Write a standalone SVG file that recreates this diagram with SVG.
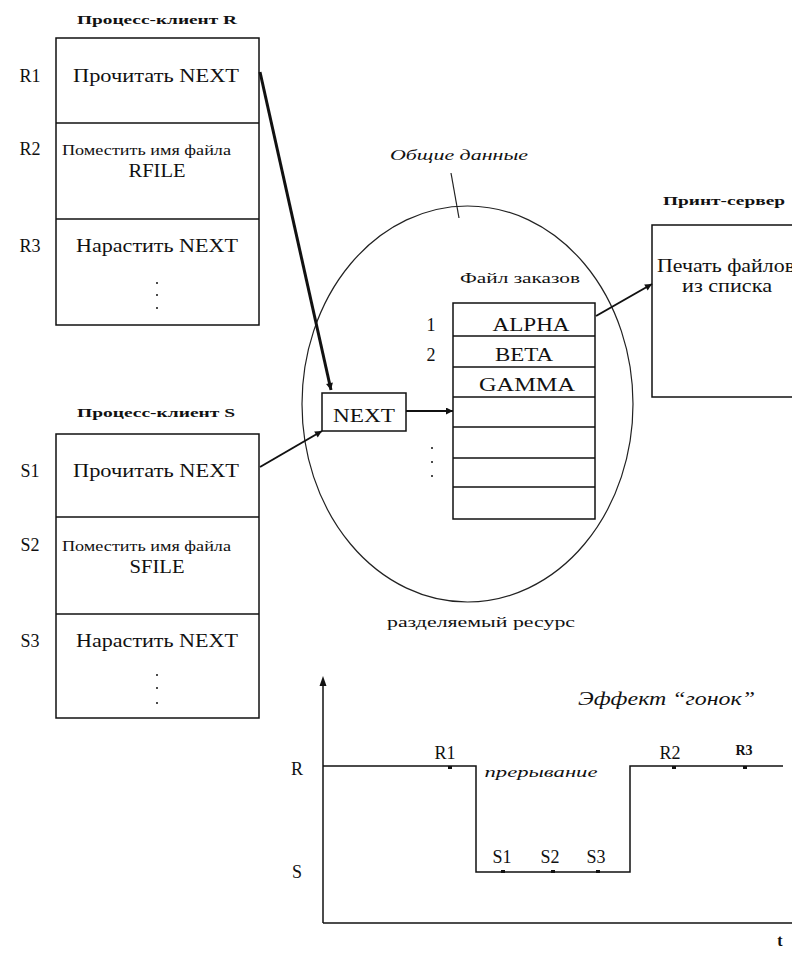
<svg xmlns="http://www.w3.org/2000/svg" width="792" height="953" viewBox="0 0 792 953">
<style>
text{font-family:"Liberation Serif","Times New Roman",serif;fill:#111}
.t{font-size:18px}
.m{font-size:15px}
.s{font-size:13px}
.b{font-size:13px;font-weight:bold}
.i{font-style:italic}
.c{text-anchor:middle}
.box{fill:#fff;stroke:#111;stroke-width:1.5}
.ln{stroke:#111;stroke-width:1.5;fill:none}
.cn{stroke:#111;stroke-width:2;fill:none}
.dot{fill:#111}
</style>
<defs>
<marker id="ah" viewBox="0 0 10 10" refX="10" refY="5" markerWidth="9" markerHeight="7" markerUnits="userSpaceOnUse" orient="auto">
<path d="M0,0 L10,5 L0,10 z" fill="#111"/>
</marker>
</defs>
<rect width="792" height="953" fill="#fff"/>

<g id="processR">
<text class="b c" x="157" y="24" textLength="160" lengthAdjust="spacingAndGlyphs">Процесс-клиент R</text>
<rect class="box" x="56" y="38" width="203" height="287"/>
<line class="ln" x1="56" y1="123" x2="259" y2="123"/>
<line class="ln" x1="56" y1="219" x2="259" y2="219"/>
<text class="t c" x="30" y="82">R1</text>
<text class="t c" x="30" y="155">R2</text>
<text class="t c" x="30" y="252">R3</text>
<text class="t c" x="156" y="82" textLength="166" lengthAdjust="spacingAndGlyphs">Прочитать NEXT</text>
<text class="m" x="62" y="155" textLength="169" lengthAdjust="spacingAndGlyphs">Поместить имя файла</text>
<text class="t c" x="157" y="177" textLength="57" lengthAdjust="spacingAndGlyphs">RFILE</text>
<text class="t c" x="157" y="252" textLength="162" lengthAdjust="spacingAndGlyphs">Нарастить NEXT</text>
<circle class="dot" cx="157" cy="283" r="1"/>
<circle class="dot" cx="157" cy="295" r="1"/>
<circle class="dot" cx="157" cy="308" r="1"/>
</g>

<g id="processS">
<text class="b c" x="156" y="417" textLength="158" lengthAdjust="spacingAndGlyphs">Процесс-клиент S</text>
<rect class="box" x="56" y="434" width="203" height="284"/>
<line class="ln" x1="56" y1="517" x2="259" y2="517"/>
<line class="ln" x1="56" y1="614" x2="259" y2="614"/>
<text class="t c" x="30" y="477">S1</text>
<text class="t c" x="30" y="551">S2</text>
<text class="t c" x="30" y="647">S3</text>
<text class="t c" x="156" y="477" textLength="166" lengthAdjust="spacingAndGlyphs">Прочитать NEXT</text>
<text class="m" x="62" y="551" textLength="169" lengthAdjust="spacingAndGlyphs">Поместить имя файла</text>
<text class="t c" x="157" y="573" textLength="55" lengthAdjust="spacingAndGlyphs">SFILE</text>
<text class="t c" x="157" y="647" textLength="162" lengthAdjust="spacingAndGlyphs">Нарастить NEXT</text>
<circle class="dot" cx="157" cy="675" r="1"/>
<circle class="dot" cx="157" cy="688" r="1"/>
<circle class="dot" cx="157" cy="703" r="1"/>
</g>

<g id="sharedData">
<ellipse cx="467.5" cy="404" rx="165.5" ry="198" fill="none" stroke="#222" stroke-width="1.2"/>
<line x1="451" y1="173" x2="459" y2="218" stroke="#222" stroke-width="1.2"/>
<text class="m i c" x="459" y="160" textLength="138" lengthAdjust="spacingAndGlyphs">Общие данные</text>
<text class="m c" x="481" y="627" textLength="188" lengthAdjust="spacingAndGlyphs">разделяемый ресурс</text>
</g>

<g id="orderFile">
<text class="m c" x="520" y="283" textLength="120" lengthAdjust="spacingAndGlyphs">Файл заказов</text>
<rect class="box" x="453" y="303" width="142" height="216"/>
<line class="ln" x1="453" y1="336" x2="595" y2="336"/>
<line class="ln" x1="453" y1="367" x2="595" y2="367"/>
<line class="ln" x1="453" y1="397" x2="595" y2="397"/>
<line class="ln" x1="453" y1="427" x2="595" y2="427"/>
<line class="ln" x1="453" y1="458" x2="595" y2="458"/>
<line class="ln" x1="453" y1="487" x2="595" y2="487"/>
<text class="t c" x="531" y="331" textLength="77" lengthAdjust="spacingAndGlyphs">ALPHA</text>
<text class="t c" x="524" y="361" textLength="58" lengthAdjust="spacingAndGlyphs">BETA</text>
<text class="t c" x="527" y="391" textLength="96" lengthAdjust="spacingAndGlyphs">GAMMA</text>
<text class="t c" x="431" y="331">1</text>
<text class="t c" x="431" y="361">2</text>
<circle class="dot" cx="432" cy="448" r="1"/>
<circle class="dot" cx="432" cy="462" r="1"/>
<circle class="dot" cx="432" cy="476" r="1"/>
</g>

<g id="nextVar">
<rect class="box" x="322" y="393" width="84" height="38"/>
<text class="t c" x="364" y="422" textLength="62" lengthAdjust="spacingAndGlyphs">NEXT</text>
</g>

<g id="printServer">
<text class="b" x="663" y="205" textLength="122" lengthAdjust="spacingAndGlyphs">Принт-сервер</text>
<rect class="box" x="652" y="225" width="150" height="172"/>
<text class="t" x="657" y="272" textLength="138" lengthAdjust="spacingAndGlyphs">Печать файлов</text>
<text class="t c" x="727" y="292" textLength="90" lengthAdjust="spacingAndGlyphs">из списка</text>
</g>

<g id="connectors">
<line x1="260" y1="72" x2="331" y2="390" stroke="#111" stroke-width="3" marker-end="url(#ah)"/>
<line class="cn" x1="260" y1="467" x2="322" y2="431" marker-end="url(#ah)"/>
<line class="cn" x1="406" y1="411" x2="453" y2="411" marker-end="url(#ah)"/>
<line class="cn" x1="596" y1="316" x2="652" y2="284" marker-end="url(#ah)"/>
</g>

<g id="timingChart">
<line class="ln" x1="323" y1="923" x2="323" y2="684"/>
<path d="M323,676 L319.5,686 L326.5,686 z" fill="#111"/>
<line class="ln" x1="323" y1="923" x2="792" y2="923"/>
<path class="ln" d="M323,766 H476 V872 H630 V766 H783"/>
<rect class="dot" x="448" y="766" width="4" height="3"/>
<rect class="dot" x="672" y="766" width="4" height="3"/>
<rect class="dot" x="743" y="766" width="4" height="3"/>
<rect class="dot" x="501" y="870" width="4" height="3"/>
<rect class="dot" x="551" y="870" width="4" height="3"/>
<rect class="dot" x="596" y="870" width="4" height="3"/>
<text class="t c" x="297" y="775">R</text>
<text class="t c" x="297" y="878">S</text>
<text class="t c" x="445" y="759">R1</text>
<text class="t c" x="670" y="759">R2</text>
<text class="c" x="744" y="755" style="font-size:14px;font-weight:bold">R3</text>
<text class="t c" x="502" y="863">S1</text>
<text class="t c" x="550" y="863">S2</text>
<text class="t c" x="596" y="863">S3</text>
<text class="c" x="780" y="946" style="font-size:16px;font-weight:bold">t</text>
<text class="m i c" x="541" y="777" textLength="113" lengthAdjust="spacingAndGlyphs">прерывание</text>
<text class="i" x="578" y="705" style="font-size:18px" textLength="177" lengthAdjust="spacingAndGlyphs">Эффект “гонок”</text>
</g>
</svg>
